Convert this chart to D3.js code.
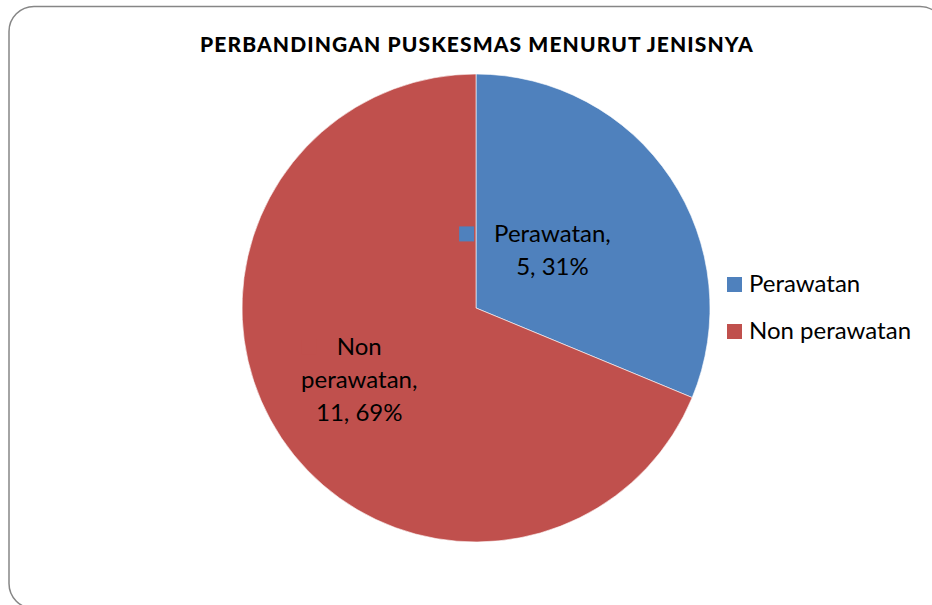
<!DOCTYPE html>
<html>
<head>
<meta charset="utf-8">
<script src="https://cdn.jsdelivr.net/npm/d3@7"></script>
<style>
  body { margin: 0; background: #fff; }
  svg { display: block; font-family: Lato, "Open Sans", sans-serif; }
</style>
</head>
<body>
<script>
// data
var categories = ["Perawatan", "Non perawatan"];
var values = [5, 11];
var colors = ["#4F81BD", "#C0504D"];
var title = "PERBANDINGAN PUSKESMAS MENURUT JENISNYA";

var width = 932, height = 605;
var cx = 476, cy = 308, radius = 234;
var labelFont = 24, lineH = 33;

var svg = d3.select("body").append("svg")
  .attr("width", width)
  .attr("height", height);

// chart frame
svg.append("rect")
  .attr("x", 9).attr("y", 6.5)
  .attr("width", 936).attr("height", 602)
  .attr("rx", 25).attr("ry", 25)
  .attr("fill", "#fff")
  .attr("stroke", "#868686")
  .attr("stroke-width", 1.5);

svg.append("text")
  .attr("x", cx + 1).attr("y", 52)
  .attr("text-anchor", "middle")
  .attr("font-weight", 900)
  .attr("font-size", 21)
  .attr("letter-spacing", 1.1)
  .attr("fill", "#000")
  .text(title);

var total = d3.sum(values);
var table = categories.map(function(c, i) { return {name: c, value: values[i], color: colors[i]}; });

var pie = d3.pie().sort(null).value(function(d) { return d.value; });
var arcs = pie(table);
var arc = d3.arc().innerRadius(0).outerRadius(radius);

var g = svg.append("g").attr("transform", "translate(" + cx + "," + cy + ")");

g.selectAll(".slice")
  .data(arcs)
  .enter().append("path")
  .attr("class", "slice")
  .attr("d", arc)
  .attr("fill", function(d) { return d.data.color; })
  .attr("stroke", "#fff")
  .attr("stroke-width", 0.6);

// label distance from centre, as a share of the radius (best-fit placement)
var labelPos = [0.393, 0.6];

arcs.forEach(function(d, i) {
  var pct = Math.round(d.data.value / total * 100);
  var lines;
  if (i === 0) lines = [d.data.name + ",", d.data.value + ", " + pct + "%"];
  else lines = ["Non", "perawatan,", d.data.value + ", " + pct + "%"];
  var r = radius * labelPos[i];
  var c = d3.arc().innerRadius(r).outerRadius(r).centroid(d);
  var lg = g.append("g").attr("transform", "translate(" + c[0] + "," + (c[1] + 2) + ")");
  var t = lg.append("text")
    .attr("text-anchor", "middle")
    .attr("font-size", labelFont)
    .attr("fill", "#000");
  lines.forEach(function(s, k) {
    t.append("tspan")
      .attr("x", 0)
      .attr("y", (k - (lines.length - 1) / 2) * lineH)
      .text(s);
  });
  // legend key inside the label
  var w0 = t.select("tspan").node().getComputedTextLength();
  var y0 = (0 - (lines.length - 1) / 2) * lineH;
  lg.insert("rect", "text")
    .attr("x", -w0 / 2 - 35).attr("y", y0 - 16)
    .attr("width", 15).attr("height", 15)
    .attr("fill", d.data.color);
});

// legend
var legend = svg.append("g").attr("transform", "translate(727,277)");
var item = legend.selectAll(".item")
  .data(table)
  .enter().append("g")
  .attr("class", "item")
  .attr("transform", function(d, i) { return "translate(0," + (i * 47) + ")"; });
item.append("rect")
  .attr("width", 15).attr("height", 15)
  .attr("fill", function(d) { return d.color; });
item.append("text")
  .attr("x", 22).attr("y", 15)
  .attr("font-size", labelFont)
  .attr("fill", "#000")
  .text(function(d) { return d.name; });
</script>
</body>
</html>
